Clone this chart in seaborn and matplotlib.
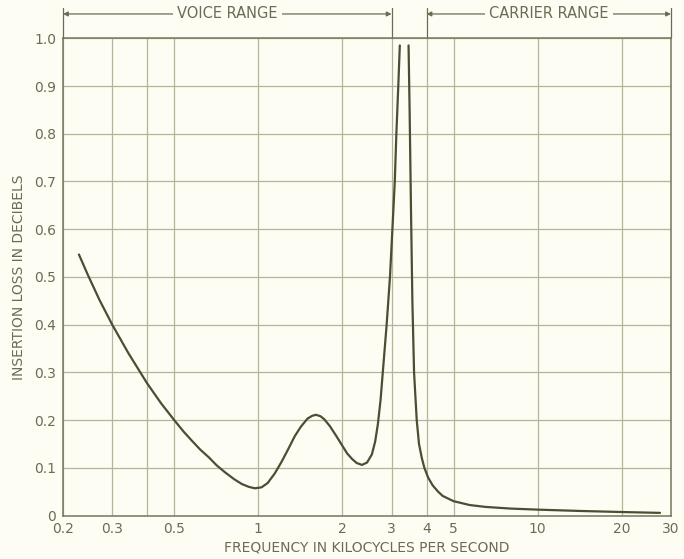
import matplotlib
matplotlib.use('Agg')

import pandas as pd
import matplotlib.pyplot as plt
import seaborn as sns
from matplotlib.lines import Line2D

# curva (kc/s, dB)
frec_voz = [0.228, 0.246, 0.270, 0.300, 0.343, 0.400, 0.449, 0.500, 0.540, 0.580,
            0.620, 0.665, 0.710, 0.762, 0.820, 0.873, 0.925, 0.972, 1.027, 1.08,
            1.145, 1.21, 1.277, 1.35, 1.42, 1.50, 1.56, 1.61, 1.67, 1.72,
            1.80, 1.90, 2.0, 2.08, 2.17, 2.25, 2.35, 2.45, 2.55, 2.62,
            2.68, 2.74, 2.79, 2.88, 2.96, 3.02, 3.08, 3.12, 3.17, 3.21]
perd_voz = [0.547, 0.503, 0.452, 0.400, 0.340, 0.277, 0.235, 0.200, 0.176, 0.156,
            0.138, 0.122, 0.105, 0.090, 0.076, 0.066, 0.060, 0.057, 0.059, 0.068,
            0.088, 0.112, 0.138, 0.166, 0.186, 0.203, 0.209, 0.211, 0.208, 0.202,
            0.188, 0.167, 0.146, 0.130, 0.118, 0.110, 0.106, 0.111, 0.128, 0.155,
            0.192, 0.243, 0.300, 0.400, 0.500, 0.600, 0.700, 0.800, 0.900, 0.985]

frec_port = [3.45, 3.48, 3.52, 3.56, 3.61, 3.69, 3.76, 3.85, 3.93, 4.05,
             4.21, 4.40, 4.57, 5.0, 5.7, 6.5, 8.0, 10, 14.2, 20, 27.4]
perd_port = [0.985, 0.85, 0.64, 0.45, 0.30, 0.20, 0.15, 0.12, 0.10, 0.08,
             0.063, 0.050, 0.041, 0.030, 0.022, 0.018, 0.0145, 0.0123, 0.0095, 0.0073, 0.0055]

ticks_x = [0.2, 0.3, 0.4, 0.5, 1, 2, 3, 4, 5, 10, 20, 30]
etiq_x = ['0.2', '0.3', '', '0.5', '1', '2', '3', '4', '5', '10', '20', '30']
ticks_y = [0, 0.1, 0.2, 0.3, 0.4, 0.5, 0.6, 0.7, 0.8, 0.9, 1.0]
etiq_y = ['0', '0.1', '0.2', '0.3', '0.4', '0.5', '0.6', '0.7', '0.8', '0.9', '1.0']

fondo = '#fdfdf4'
col_linea = '#4d4d33'
col_grid = '#b4b498'
col_texto = '#6c6c55'

sns.set_style('white')
plt.rcParams['font.family'] = ['DejaVu Sans']

df = pd.DataFrame({
    'frec': frec_voz + frec_port,
    'perdida': perd_voz + perd_port,
    'tramo': ['voz'] * len(frec_voz) + ['portadora'] * len(frec_port),
})

fig = plt.figure(figsize=(6.84, 5.59), dpi=100, facecolor=fondo)
ax = fig.add_axes([63 / 684, 1 - 515.5 / 559, 608 / 684, 477.2 / 559])
ax.set_facecolor(fondo)

sns.lineplot(data=df, x='frec', y='perdida', units='tramo', estimator=None,
             color=col_linea, linewidth=1.6, ax=ax, sort=False)

ax.set_xscale('log')
ax.set_xlim(0.2, 30)
ax.set_ylim(0, 1.0)
ax.set_xticks(ticks_x)
ax.set_xticklabels(etiq_x)
ax.minorticks_off()
ax.set_yticks(ticks_y)
ax.set_yticklabels(etiq_y)
ax.tick_params(length=0, labelsize=10, labelcolor=col_texto, pad=5)
ax.grid(True, color=col_grid, linewidth=0.9)
for s in ax.spines.values():
    s.set_color('#767660')
    s.set_linewidth(1.1)

ax.set_xlabel('FREQUENCY IN KILOCYCLES PER SECOND', fontsize=10, color=col_texto, labelpad=3)
ax.set_ylabel('INSERTION LOSS IN DECIBELS', fontsize=10, color=col_texto, labelpad=6)

# rangos arriba del grafico
trans = ax.get_xaxis_transform()
y_flecha = 1.051
for x0, x1, texto in [(0.2, 3, 'VOICE RANGE'), (4, 30, 'CARRIER RANGE')]:
    ax.annotate('', xy=(x0, y_flecha), xytext=(x1, y_flecha), xycoords=trans,
                textcoords=trans,
                arrowprops=dict(arrowstyle='<|-|>', color=col_texto, lw=0.9,
                                mutation_scale=7, shrinkA=0, shrinkB=0))
    for xb in (x0, x1):
        ax.add_line(Line2D([xb, xb], [1.0, 1.064], transform=trans, color=col_texto,
                           lw=0.9, clip_on=False))
    xm = (x0 * x1) ** 0.5
    ax.text(xm, y_flecha, texto, transform=trans, ha='center', va='center',
            fontsize=10.5, color=col_texto,
            bbox=dict(facecolor=fondo, edgecolor='none', pad=3))

fig.savefig('out.png', dpi=100, facecolor=fondo)
